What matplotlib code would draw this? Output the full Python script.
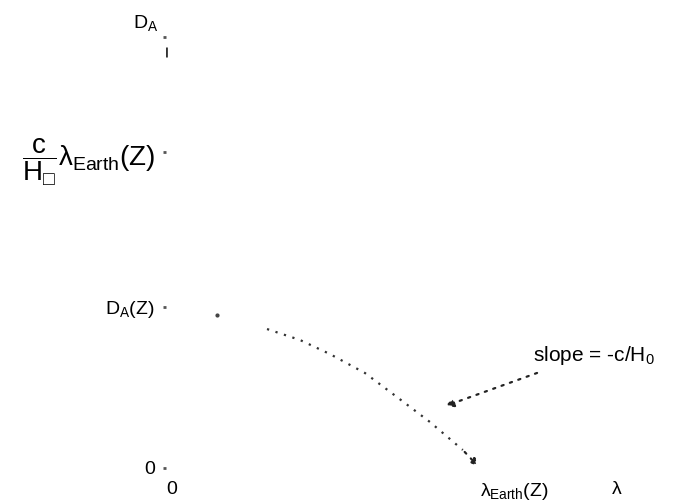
import matplotlib
matplotlib.use("Agg")
import matplotlib.pyplot as plt

plt.rcParams['font.family'] = ['Liberation Sans', 'DejaVu Sans']
plt.rcParams['mathtext.fontset'] = 'custom'
plt.rcParams['mathtext.rm'] = 'Liberation Sans'
plt.rcParams['mathtext.it'] = 'Liberation Sans'
plt.rcParams['mathtext.bf'] = 'Liberation Sans:bold'
plt.rcParams['mathtext.fallback'] = 'stixsans'

# lambda in units of lambda_Earth(Z), D_A in units of D_A(Z)
lam = [0.162, 0.322, 0.427, 0.522, 0.634, 0.736, 0.841, 0.946, 1.0]
d_a = [0.950, 0.863, 0.795, 0.708, 0.590, 0.441, 0.286, 0.112, 0.0]

ytick_vals = [0.0, 1.0, 1.963, 2.677]
ytick_labels = ['0', r'D$_\mathrm{A}$(Z)',
                '$\\dfrac{\\mathrm{c}}{\\mathrm{H}_{\u25a1}}\\lambda_{\\mathrm{Earth}}\\mathrm{(Z)}$', '']
xtick_vals = [0.0, 1.0, 1.436]
xtick_labels = ['0', r'$\lambda_{\mathrm{Earth}}$(Z)', r'$\lambda$']

slope_tip = (0.882, 0.379)
slope_tail = (1.191, 0.596)
slope_text = r'slope = -c/H$_0$'

fig = plt.figure(figsize=(6.73, 5.03), dpi=100)
ax = fig.add_axes([166 / 673, 35 / 503, 502 / 673, 467 / 503])
ax.set_xlim(0, 1.6)
ax.set_ylim(0, 2.9)
for s in ax.spines.values():
    s.set_visible(False)

ax.set_yticks(ytick_vals)
ax.set_yticklabels(ytick_labels, fontsize=14)
ax.get_yticklabels()[2].set_fontsize(20)
ax.tick_params(axis='y', length=2, width=2, color='#555555', pad=6)
ax.set_xticks(xtick_vals)
ax.set_xticklabels(xtick_labels, fontsize=14)
ax.tick_params(axis='x', length=0, pad=9)
xl = ax.get_xticklabels()
xl[0].set_ha('left')
xl[1].set_ha('left')

# top of the D_A axis
ax.annotate(r'D$_\mathrm{A}$', xy=(0, ytick_vals[-1]), xytext=(-15, 10),
            textcoords='offset points', ha='center', va='center', fontsize=14)
ax.plot([0, 0], [2.553, 2.615], color='#333333', lw=2, solid_capstyle='butt')

# D_A(lambda) curve
ax.plot(lam[:1], d_a[:1], 'o', ms=2, color='#444444')
ax.plot(lam[1:-1], d_a[1:-1], color='#333333', lw=1.6, linestyle=(0, (1, 3)))
ax.annotate('', xy=(lam[-1], d_a[-1]), xytext=(lam[-2], d_a[-2]),
            arrowprops=dict(arrowstyle='-|>', color='#222222', lw=1.6,
                            linestyle=(0, (1, 3)), mutation_scale=10))

# slope annotation
ax.annotate('', xy=slope_tip, xytext=slope_tail,
            arrowprops=dict(arrowstyle='-|>', color='#222222', lw=1.6,
                            linestyle=(0, (1, 3)), mutation_scale=12))
ax.text(slope_tail[0] - 0.022, slope_tail[1] + 0.105, slope_text, fontsize=15,
        ha='left', va='center')

fig.savefig('out.png', dpi=100)
